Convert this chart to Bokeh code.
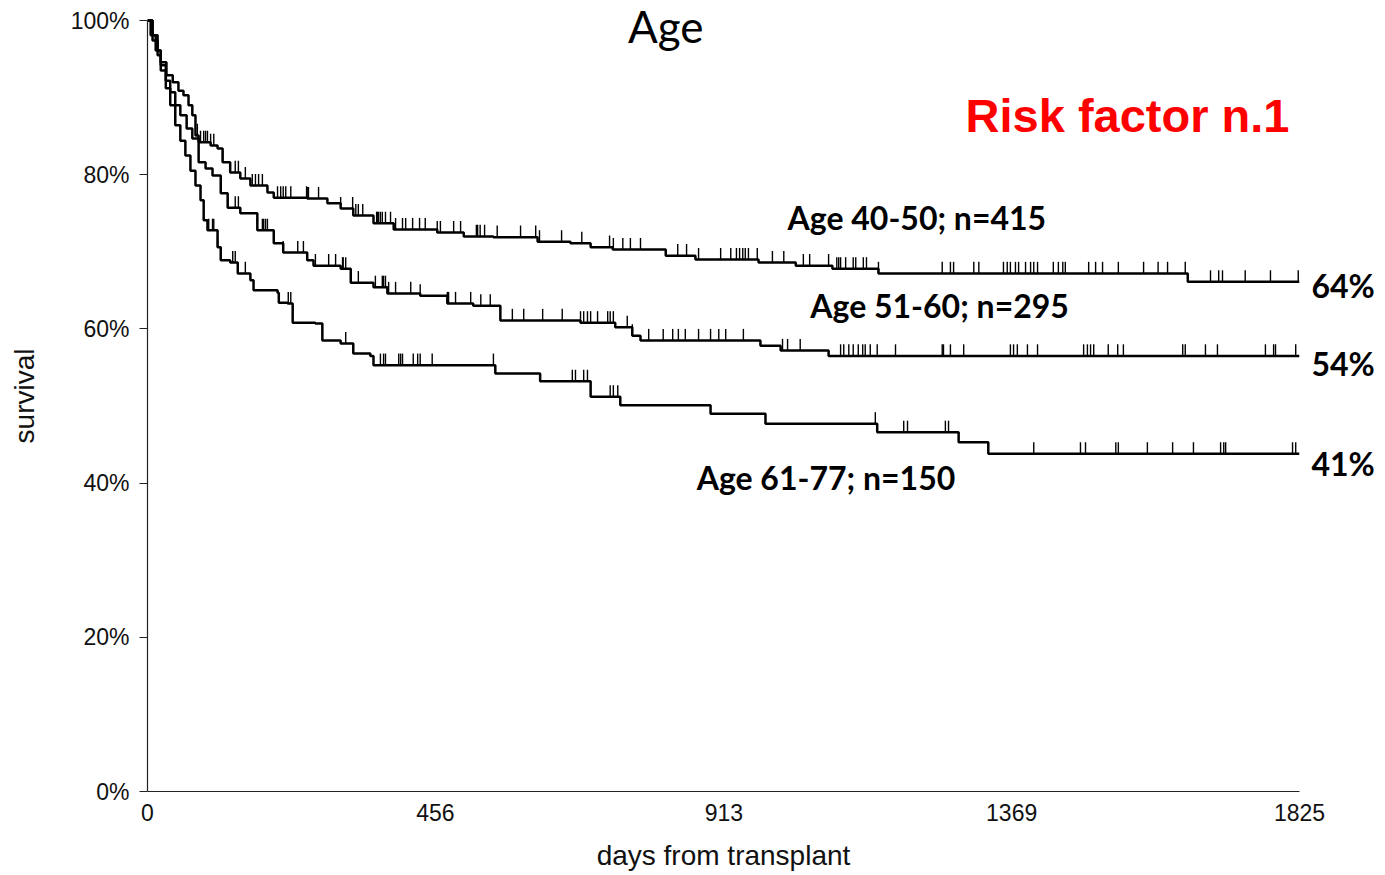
import numpy as np
from bokeh.plotting import figure
from bokeh.models import Label, FixedTicker, CustomJSTickFormatter, Range1d, LinearAxis
from bokeh.embed import file_html
from bokeh.resources import INLINE

# ---- data (days from transplant, survival %) ----
t_4050 = [0, 8, 16, 21, 30, 40, 49, 57, 65, 71, 76, 81, 100, 111, 119, 131, 147, 163, 190, 200,
          253, 285, 306, 326, 358, 390, 459, 501, 548, 618, 670, 702, 737, 821, 868, 968, 1027,
          1085, 1158, 1648]
s_4050 = [100, 98.1, 96.1, 94.6, 92.9, 92.0, 90.9, 90.3, 89.0, 87.7, 85.1, 84.2, 83.8, 83.4, 81.6,
          80.3, 79.5, 78.6, 77.7, 77.0, 76.9, 76.3, 75.6, 74.7, 73.7, 72.9, 72.5, 72.0, 71.9, 71.3,
          71.1, 70.6, 70.3, 69.5, 69.0, 68.6, 68.2, 67.8, 67.2, 66.1]
c_4050 = [79, 84, 89, 92, 95, 100, 105, 119, 139, 144, 155, 166, 171, 176, 182, 206, 211, 215, 219,
          227, 252, 253, 255, 271, 306, 325, 330, 334, 341, 363, 364, 366, 369, 372, 377, 385, 393,
          404, 409, 420, 431, 440, 459, 464, 485, 496, 521, 523, 527, 534, 554, 591, 615, 621, 656,
          688, 732, 738, 753, 765, 781, 840, 854, 873, 908, 924, 933, 938, 943, 947, 952, 966, 990,
          1008, 1039, 1049, 1079, 1092, 1095, 1098, 1106, 1118, 1122, 1134, 1139, 1158, 1259, 1272,
          1277, 1309, 1317, 1356, 1362, 1367, 1375, 1380, 1391, 1399, 1404, 1410, 1435, 1443, 1450,
          1454, 1491, 1502, 1513, 1538, 1578, 1601, 1616, 1644, 1684, 1697, 1703, 1739, 1779, 1823]

t_5160 = [0, 8, 16, 21, 29, 36, 44, 52, 62, 71, 81, 92, 103, 116, 127, 147, 174, 200, 215, 253,
          263, 306, 322, 358, 380, 432, 475, 516, 559, 686, 741, 768, 781, 971, 1003, 1079]
s_5160 = [100, 97.4, 95.5, 94.2, 92.2, 90.7, 89.0, 87.7, 86.0, 84.7, 81.6, 80.8, 79.9, 77.6, 75.7,
          75.0, 72.8, 71.1, 69.9, 68.9, 68.2, 67.8, 66.0, 65.4, 64.6, 64.3, 63.3, 63.0, 61.1, 60.8,
          60.2, 59.1, 58.5, 57.8, 57.2, 56.5]
c_5160 = [127, 139, 144, 174, 182, 184, 187, 190, 215, 238, 247, 266, 287, 298, 309, 310, 314, 334,
          361, 372, 374, 377, 382, 393, 417, 432, 475, 477, 488, 512, 528, 543, 578, 596, 626, 657,
          686, 691, 697, 702, 713, 729, 733, 738, 760, 768, 794, 817, 832, 841, 852, 873, 892, 905,
          916, 944, 1006, 1014, 1034, 1098, 1103, 1111, 1118, 1126, 1133, 1137, 1145, 1156, 1185,
          1259, 1261, 1272, 1293, 1367, 1372, 1378, 1394, 1410, 1483, 1489, 1494, 1499, 1522, 1537,
          1546, 1640, 1644, 1676, 1695, 1771, 1784, 1787, 1819]

t_6177 = [0, 5, 13, 21, 29, 36, 44, 52, 60, 68, 76, 84, 89, 95, 111, 116, 131, 143, 163, 168, 206,
          208, 222, 230, 266, 277, 306, 326, 353, 358, 551, 622, 702, 749, 892, 979, 1156, 1285, 1332]
s_6177 = [100, 98.1, 96.1, 93.5, 91.2, 89.0, 86.4, 84.4, 82.5, 80.5, 78.6, 76.7, 74.1, 72.8, 70.6,
          68.9, 68.6, 67.2, 66.3, 65.0, 64.7, 63.4, 63.3, 60.8, 60.7, 58.5, 58.1, 56.8, 56.5, 55.3,
          54.2, 53.2, 51.2, 50.1, 49.0, 47.7, 46.6, 45.3, 43.8]
c_6177 = [97, 103, 105, 111, 135, 139, 155, 223, 227, 314, 369, 374, 377, 398, 401, 404, 421, 428,
          432, 451, 548, 673, 678, 691, 697, 733, 738, 745, 1153, 1198, 1204, 1264, 1269, 1404, 1478,
          1486, 1534, 1538, 1584, 1624, 1657, 1700, 1705, 1708, 1814, 1819]

end_labels = ["64%", "54%", "41%"]
end_label_y = [65.6, 55.5, 42.5]

x_ticks = [0, 456, 913, 1369, 1825]
y_ticks = [0, 20, 40, 60, 80, 100]
X_END = 1825

W, H = 1385, 875
LEFT, RIGHT, TOP, BOTTOM = 147, 86, 20, 84
# vertical range extended above 100% so the title sits inside the frame; y axis stops at 100
px_per_pct = (H - TOP - BOTTOM) / 100.0
y_top = 100 + TOP / px_per_pct

p = figure(width=W, height=H, output_backend="svg", toolbar_location=None,
           x_range=Range1d(0, X_END), y_range=Range1d(0, y_top),
           min_border_left=LEFT, min_border_right=RIGHT, min_border_top=0, min_border_bottom=BOTTOM)
p.outline_line_color = None
p.xgrid.visible = False
p.ygrid.visible = False
p.background_fill_color = "white"
p.border_fill_color = "white"

for ax in (p.xaxis[0], p.yaxis[0]):
    ax.axis_line_color = "#222222"
    ax.axis_line_width = 1.2
    ax.major_label_text_font = "Liberation Sans"
    ax.major_label_text_font_size = "23px"
    ax.major_label_text_color = "#111111"
    ax.axis_label_text_font = "Liberation Sans"
    ax.axis_label_text_font_style = "normal"
    ax.axis_label_text_color = "#111111"
    ax.minor_tick_line_color = None

p.xaxis.ticker = FixedTicker(ticks=x_ticks)
p.xaxis.major_tick_out = 4
p.xaxis.major_tick_in = 0
p.xaxis.major_tick_line_color = None
p.xaxis.major_label_standoff = 8
p.xaxis.axis_label = "days from transplant"
p.xaxis.axis_label_text_font_size = "28px"
p.xaxis.axis_label_standoff = 16

p.yaxis.bounds = (0, 100)
p.yaxis.ticker = FixedTicker(ticks=y_ticks)
p.yaxis.formatter = CustomJSTickFormatter(code="return tick + '%';")
p.yaxis.major_tick_out = 8
p.yaxis.major_tick_in = 0
p.yaxis.major_tick_line_color = "#222222"
p.yaxis.major_label_standoff = 10
p.yaxis.axis_label = "survival"
p.yaxis.axis_label_text_font_size = "28px"
p.yaxis.axis_label_standoff = 28

# right-hand axis carrying the end-of-follow-up percentages
rax = LinearAxis(ticker=FixedTicker(ticks=end_label_y),
                 major_label_overrides={v: t for v, t in zip(end_label_y, end_labels)})
rax.axis_line_color = None
rax.major_tick_line_color = None
rax.minor_tick_line_color = None
rax.major_tick_out = 0
rax.major_tick_in = 0
rax.major_label_standoff = 12
rax.major_label_text_font = "Lato"
rax.major_label_text_font_style = "bold"
rax.major_label_text_font_size = "32px"
rax.major_label_text_color = "black"
p.add_layout(rax, "right")


def draw(times, surv, cens):
    tt = np.array(times + [X_END], dtype=float)
    ss = np.array(surv + [surv[-1]], dtype=float)
    p.step(tt, ss, mode="after", line_color="black", line_width=2.5)
    c = np.array(cens, dtype=float)
    idx = np.searchsorted(np.array(times, dtype=float), c, side="right") - 1
    sv = np.array(surv, dtype=float)[idx]
    p.segment(x0=c, y0=sv, x1=c, y1=sv + 1.5, line_color="black", line_width=1.4)


draw(t_4050, s_4050, c_4050)
draw(t_5160, s_5160, c_5160)
draw(t_6177, s_6177, c_6177)


def lab(x, y, text, size, color="black", font="Lato", style="bold", align="left"):
    p.add_layout(Label(x=x, y=y, text=text, text_font=font, text_font_size=size,
                       text_font_style=style, text_color=color, text_align=align,
                       text_baseline="middle"))


lab(821, 99.3, "Age", "44px", style="normal", align="center")
lab(1296, 87.7, "Risk factor n.1", "47px", color="#ff0000", font="Liberation Sans")
lab(1014, 74.4, "Age 40-50; n=415", "32px")
lab(1050, 63.0, "Age 51-60; n=295", "32px")
lab(870, 40.7, "Age 61-77; n=150", "32px")

open("out.html", "w").write(file_html(p, INLINE))
